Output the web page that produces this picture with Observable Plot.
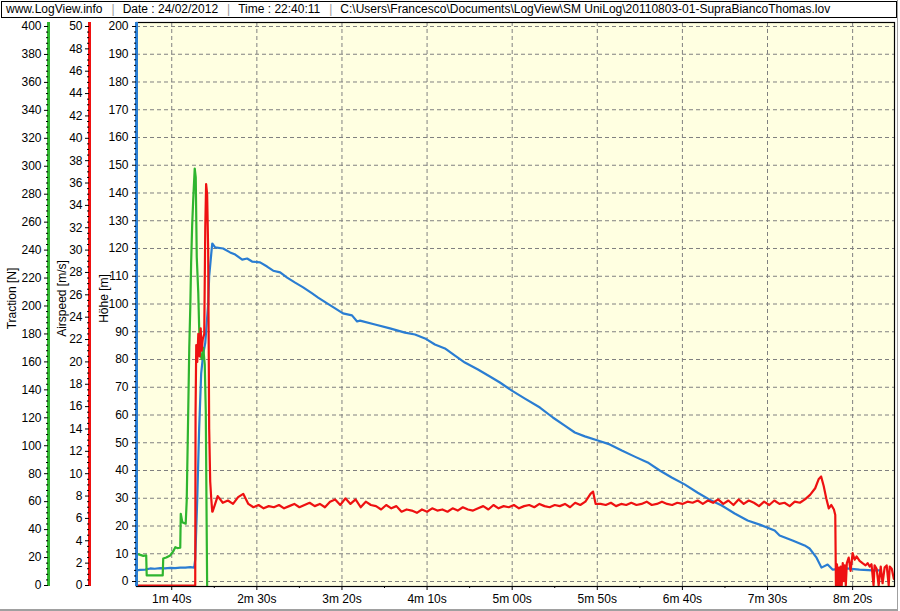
<!DOCTYPE html>
<html>
<head>
<meta charset="utf-8">
<script src="https://cdn.jsdelivr.net/npm/d3@7"></script>
<script src="https://cdn.jsdelivr.net/npm/@observablehq/plot@0.6"></script>
<style>
html,body{margin:0;padding:0;background:#fff;}
#wrap{position:relative;width:900px;height:611px;overflow:hidden;font-family:"Liberation Sans",Arial,sans-serif;}
#header{position:absolute;left:1px;top:1px;width:896px;height:17px;box-sizing:border-box;border:1px solid #000;font-size:12px;line-height:15px;padding-left:4px;white-space:pre;color:#000;background:#fff;z-index:2}
.sep{color:#9a9a9a;margin:0 8px 0 9px;}
#edge{position:absolute;left:0;top:0;width:897px;height:609px;border-right:1px solid #a0a0a0;border-bottom:2px solid #a0a0a0;pointer-events:none;z-index:3}
#chart{position:absolute;left:0;top:0;}
</style>
</head>
<body>
<div id="wrap"><div id="chart"></div><div id="header"></div><div id="edge"></div></div>
<script>
// ---------- header / labels ----------
const headerParts = ["www.LogView.info", "Date : 24/02/2012", "Time : 22:40:11",
  "C:\\Users\\Francesco\\Documents\\LogView\\SM UniLog\\20110803-01-SupraBiancoThomas.lov"];
const axisLabels = ["Traction [N]", "Airspeed [m/s]", "Höhe [m]"];

// ---------- axes ----------
const timeDomain = [79.3, 524.6];           // seconds
const xTickValues = [100, 150, 200, 250, 300, 350, 400, 450, 500];
const xTickLabels = ["1m 40s", "2m 30s", "3m 20s", "4m 10s", "5m 00s", "5m 50s", "6m 40s", "7m 30s", "8m 20s"];
const xMinorTicks = [125, 175, 225, 275, 325, 375, 425, 475];
const hoeheTicks = [0, 10, 20, 30, 40, 50, 60, 70, 80, 90, 100, 110, 120, 130, 140, 150, 160, 170, 180, 190, 200];
const tractionTicks = [0, 20, 40, 60, 80, 100, 120, 140, 160, 180, 200, 220, 240, 260, 280, 300, 320, 340, 360, 380, 400];
const airspeedTicks = [0, 2, 4, 6, 8, 10, 12, 14, 16, 18, 20, 22, 24, 26, 28, 30, 32, 34, 36, 38, 40, 42, 44, 46, 48, 50];

// ---------- Höhe [m] ----------
const hoeheTime = [79.3, 81.5, 84.4, 87.4, 90, 93.3, 96, 99.1, 102, 105.0, 108, 110.9, 113.2, 113.8, 115.0, 116.1, 117.3, 118.5, 119.7, 121.4, 122.0, 123.2, 123.8, 125.5, 130.2, 134.3, 137.3, 141.4, 144.3, 147.2, 151.9, 156.0, 159.6, 163.7, 167.8, 172.5, 177.2, 182.5, 186.0, 191.3, 196.0, 200.6, 205.9, 208.9, 210.6, 219.4, 228.2, 237.0, 242.9, 248.8, 254.6, 260.5, 266.4, 272.2, 279.9, 286.9, 292.8, 299.8, 307.5, 316.3, 323.9, 330.9, 336.8, 342.7, 350.3, 357.3, 364.4, 372.0, 379.6, 386.7, 393.7, 401.3, 409.0, 416.0, 423.1, 430.7, 438.3, 445.4, 454.2, 457.1, 464.7, 471.8, 474.7, 478.8, 481.7, 485.3, 488.2, 496.4, 504.0, 511.7, 515.8];
const hoehe = [4.0, 4.2, 4.3, 4.7, 4.6, 4.8, 4.7, 4.9, 4.8, 5.0, 5.0, 5.2, 5.0, 8, 30, 55, 75, 82, 86, 100, 110, 118, 121.8, 120.4, 120, 118.6, 117.8, 116, 116.4, 115.3, 115, 113.5, 112, 111.4, 109.5, 107.7, 106, 103.8, 102.3, 100.2, 98.4, 96.6, 95.9, 93.7, 94, 92.6, 91.2, 89.7, 89, 87.6, 85.4, 84, 81.4, 78.9, 76.4, 73.9, 71.7, 68.8, 65.9, 62.7, 59.1, 56.2, 53.7, 52.3, 50.8, 49.4, 47.2, 45, 42.9, 40, 37.5, 35, 32, 29.5, 27.4, 24.5, 22, 20.5, 18.4, 16.6, 14.8, 13, 11.9, 8.6, 5, 6.1, 4.3, 4.7, 4.3, 4.0, 4.0];

// ---------- Traction [N] ----------
const tractionTime = [79.3, 81.5, 83.3, 85.0, 85.3, 94.7, 95.0, 96.8, 99.1, 100.9, 102.1, 103.2, 105.0, 105.3, 106.2, 108.2, 108.8, 109.4, 110.3, 110.9, 111.4, 112.0, 112.6, 113.5, 114.1, 114.7, 115.6, 116.1, 116.7, 117.6, 118.5, 119.4, 120.0, 120.5, 120.8];
const traction = [22.7, 21.9, 21.2, 21.5, 7.2, 7.2, 19.3, 20.0, 21.5, 24.5, 27.4, 26.8, 27.0, 51.3, 45.3, 44.2, 60.8, 103.8, 170, 199, 231, 257.6, 275.5, 298.4, 292, 235, 209, 185, 166, 162, 170, 158, 125, 45, 0];

// ---------- Airspeed [m/s] ----------
const airspeedTime = [79.3, 113.8, 114.0, 114.4, 115.0, 115.6, 116.4, 117.0, 117.6, 118.2, 119.1, 119.7, 120.2, 120.8, 121.4, 122.0, 122.6, 123.2, 123.8,
  124, 127, 130, 133, 136, 139, 142, 145, 148, 151, 154, 157, 160, 163, 166, 169, 172, 175, 178, 181, 184, 187, 190, 193, 196, 199, 202, 205, 208, 211, 214, 217, 220, 223, 226, 229, 232, 235, 238, 241, 244, 247, 250, 253, 256, 259, 262, 265, 268, 271, 274, 277, 280, 283, 286, 289, 292, 295, 298, 301, 304, 307, 310, 313, 316, 319, 322, 325, 328, 331, 334, 337, 340, 343, 346, 347.5, 349, 352, 355, 358, 361, 364, 367, 370, 373, 376, 379, 382, 385, 388, 391, 394, 397, 400, 403, 406, 409, 412, 415, 418, 421, 424, 427, 430, 433, 436, 439, 442, 445, 448, 451, 454, 457, 460, 463, 466, 469, 472, 475, 478, 480, 481.5, 483, 484.5, 486, 487.5, 489, 489.8,
  490.2, 490.8, 491.4, 492.0, 492.5, 493.0, 493.6, 494.2, 494.8, 495.4, 496.0, 496.6, 497.7, 498.8, 500.0, 501.2, 502.3, 504.1, 505.8, 507.6, 508.8, 510.0, 511.1, 512.3, 512.9, 514.1, 515.3, 516.5, 517.6, 518.8, 520.0, 521.2, 521.8, 523.0, 524.2];
const airspeed = [0, 0, 15.5, 21.5, 20, 22.5, 20.5, 23, 21, 22, 22.5, 32, 35.9, 35, 30, 14, 9.3, 7.8, 6.6,
  6.6, 8.0, 7.4, 7.6, 7.3, 7.9, 8.2, 7.3, 7.0, 7.2, 6.9, 7.1, 7.0, 7.2, 6.9, 7.1, 7.3, 7.0, 7.2, 7.4, 7.1, 7.3, 7.0, 7.5, 7.7, 7.2, 7.8, 7.3, 7.7, 7.0, 7.5, 7.2, 7.1, 6.8, 7.2, 6.9, 7.1, 6.6, 6.8, 6.7, 6.5, 6.8, 6.6, 6.9, 6.7, 6.8, 6.6, 6.9, 6.7, 7.0, 6.8, 6.7, 6.9, 7.1, 6.8, 7.2, 6.9, 7.1, 7.0, 7.2, 6.9, 7.1, 7.2, 7.0, 7.3, 7.1, 7.0, 7.2, 7.1, 7.3, 7.0, 7.4, 7.2, 7.5, 8.2, 8.4, 7.3, 7.3, 7.2, 7.4, 7.1, 7.3, 7.2, 7.4, 7.2, 7.3, 7.5, 7.2, 7.3, 7.5, 7.3, 7.2, 7.4, 7.3, 7.5, 7.4, 7.6, 7.3, 7.6, 7.4, 7.7, 7.3, 7.6, 7.2, 7.7, 7.3, 7.6, 7.4, 7.1, 7.5, 7.2, 7.6, 7.3, 7.4, 7.1, 7.5, 7.4, 7.7, 8.1, 8.7, 9.5, 9.75, 8.9, 7.8, 6.9, 7.2, 6.8, 6.3,
  0, 1.9, 0, 1.6, 0, 1.7, 0, 2.0, 0.4, 1.8, 0, 2.0, 2.5, 1.3, 2.9, 2.3, 2.6, 2.2, 2.0, 1.8, 2.0, 1.7, 1.9, 0, 1.8, 1.5, 0, 1.7, 0.2, 1.6, 1.8, 0, 1.7, 1.5, 0.6];

// ---------- styling constants ----------
const C_GREEN = "#2fb52f", C_RED = "#ee1111", C_BLUE = "#2a7dd2";
const H_DOMAIN = [-1.80, 201.44];     // Höhe frame extent
const SIDE_ZERO = -1.44;              // Traction/Airspeed zero sits a little below Höhe zero
const tractionToH = n => SIDE_ZERO + n * (200 - SIDE_ZERO) / 400;
const hToTraction = h => (h - SIDE_ZERO) * 400 / (200 - SIDE_ZERO);
const airspeedToH = v => SIDE_ZERO + v * (200 - SIDE_ZERO) / 50;
const hToAirspeed = h => (h - SIDE_ZERO) * 50 / (200 - SIDE_ZERO);

const hoeheData = hoeheTime.map((t, i) => ({t, v: hoehe[i]}));
const tractionData = tractionTime.map((t, i) => ({t, v: tractionToH(traction[i])}));
const airspeedData = airspeedTime.map((t, i) => ({t, v: airspeedToH(airspeed[i])}));

const minorOf = (ticks, n) => { const out = []; for (let i = 0; i < ticks.length - 1; i++) { const a = ticks[i], b = ticks[i + 1]; for (let k = 1; k < n; k++) out.push(a + (b - a) * k / n); } return out; };
const hoeheMinor = minorOf(hoeheTicks, 5);
const tractionMinor = minorOf(tractionTicks, 5).map(tractionToH);
const airspeedMinor = minorOf(airspeedTicks, 4).map(airspeedToH);

const DX_RED = -47, DX_GREEN = -88;
const dash = {stroke: "#808080", strokeOpacity: 1, strokeWidth: 1, strokeDasharray: "4,3"};

// header
const hdr = document.getElementById("header");
hdr.innerHTML = headerParts.map(s => s.replace(/&/g, "&amp;").replace(/</g, "&lt;")).join('<span class="sep">|</span>');

const titleOpts = {frameAnchor: "left", rotate: -90, textAnchor: "middle", dy: -6, text: d => d, fontSize: 12, fill: "#000"};

const chart = Plot.plot({
  width: 900,
  height: 611,
  marginLeft: 136,
  marginRight: 6,
  marginTop: 22,
  marginBottom: 25,
  style: {fontSize: "12px", fontFamily: "Liberation Sans, Arial, sans-serif", background: "transparent", color: "#000", overflow: "visible"},
  x: {domain: timeDomain},
  y: {domain: H_DOMAIN},
  marks: [
    Plot.frame({fill: "#ffffe1", stroke: "none"}),
    Plot.gridY(hoeheTicks, dash),
    Plot.gridX(xTickValues, dash),
    Plot.line(hoeheData, {x: "t", y: "v", stroke: C_BLUE, strokeWidth: 2.2, strokeLinejoin: "round"}),
    Plot.line(tractionData, {x: "t", y: "v", stroke: C_GREEN, strokeWidth: 2.2, strokeLinejoin: "round"}),
    Plot.line(airspeedData, {x: "t", y: "v", stroke: C_RED, strokeWidth: 2.2, strokeLinejoin: "round"}),
    Plot.frame({stroke: "#000", strokeWidth: 1.2}),
    // axis lines
    Plot.ruleX([timeDomain[0]], {stroke: C_BLUE, strokeWidth: 3}),
    Plot.ruleX([timeDomain[0]], {stroke: C_RED, strokeWidth: 3, dx: DX_RED}),
    Plot.ruleX([timeDomain[0]], {stroke: C_GREEN, strokeWidth: 3, dx: DX_GREEN}),
    // Höhe axis
    Plot.axisY(hoeheTicks, {anchor: "left", tickSize: 4, tickPadding: 4, label: null, tickFormat: d => String(d)}),
    Plot.axisY(hoeheMinor, {anchor: "left", tickSize: 2, label: null, tickFormat: () => ""}),
    // Airspeed axis
    Plot.axisY(airspeedTicks.map(airspeedToH), {anchor: "left", dx: DX_RED, tickSize: 4, tickPadding: 3, label: null, tickFormat: d => String(Math.round(hToAirspeed(d)))}),
    Plot.axisY(airspeedMinor, {anchor: "left", dx: DX_RED, tickSize: 2, label: null, tickFormat: () => ""}),
    // Traction axis
    Plot.axisY(tractionTicks.map(tractionToH), {anchor: "left", dx: DX_GREEN, tickSize: 4, tickPadding: 3, label: null, tickFormat: d => String(Math.round(hToTraction(d)))}),
    Plot.axisY(tractionMinor, {anchor: "left", dx: DX_GREEN, tickSize: 2, label: null, tickFormat: () => ""}),
    // time axis
    Plot.axisX(xTickValues, {anchor: "bottom", tickSize: 4, tickPadding: 4, label: null, tickFormat: d => xTickLabels[xTickValues.indexOf(d)]}),
    Plot.axisX(xMinorTicks, {anchor: "bottom", tickSize: 2, label: null, tickFormat: () => ""}),
    // axis titles
    Plot.text([axisLabels[0]], {...titleOpts, dx: -124}),
    Plot.text([axisLabels[1]], {...titleOpts, dx: -74}),
    Plot.text([axisLabels[2]], {...titleOpts, dx: -32})
  ]
});
document.getElementById("chart").appendChild(chart);
</script>
</body>
</html>
